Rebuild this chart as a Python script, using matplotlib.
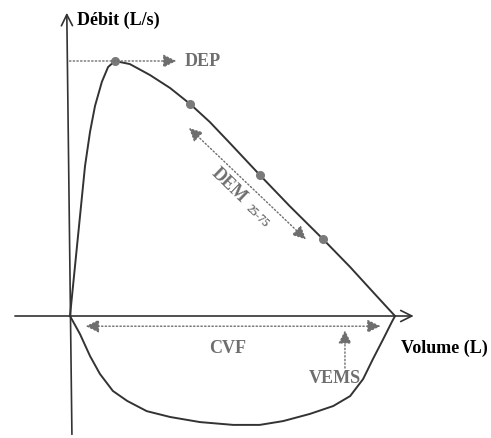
import numpy as np
import matplotlib.pyplot as plt

# courbe debit-volume (schema) : volume en L, debit en L/s
vol_exp = [0, 0.077, 0.154, 0.231, 0.308, 0.385, 0.49, 0.585, 0.69, 0.92, 1.23, 1.54,
           1.85, 2.15, 2.46, 2.92, 3.38, 3.89, 4.31, 4.69, 5.0]
deb_exp = [0, 1.96, 3.92, 5.88, 7.22, 8.24, 9.18, 9.76, 10.0, 9.88, 9.45, 8.94,
           8.31, 7.61, 6.78, 5.53, 4.31, 3.02, 1.92, 0.86, 0]

vol_insp = [0, 0.154, 0.308, 0.46, 0.66, 0.88, 1.18, 1.54, 2.0, 2.51, 2.92, 3.28,
            3.69, 4.05, 4.31, 4.51, 4.66, 4.82, 4.95, 5.0]
deb_insp = [0, -0.71, -1.57, -2.27, -2.94, -3.33, -3.73, -3.96, -4.16, -4.27, -4.27, -4.12,
            -3.84, -3.53, -3.14, -2.47, -1.69, -0.90, -0.24, 0]

# points remarquables : DEP, 25%, 50%, 75%
pts_vol = [0.69, 1.85, 2.92, 3.89]
pts_deb = [10.0, 8.31, 5.53, 3.02]

gris = '#6e6e6e'
serif = ['Liberation Serif', 'DejaVu Serif']

fig = plt.figure(figsize=(4.91, 4.39), dpi=100)
ax = fig.add_axes([0, 0, 1, 1])
ax.set_xlim(-1.077, 6.477)
ax.set_ylim(-4.784, 12.431)
ax.axis('off')

# axes
ax.annotate('', xy=(5.33, 0), xytext=(-0.89, 0),
            arrowprops=dict(arrowstyle='->', color='#333333', lw=1.2, mutation_scale=20))
ax.annotate('', xy=(-0.05, 12.0), xytext=(0.03, -4.75),
            arrowprops=dict(arrowstyle='->', color='#333333', lw=1.2, mutation_scale=20))

ax.plot(vol_exp, deb_exp, color='#333333', lw=1.4, solid_joinstyle='round')
ax.plot(vol_insp, deb_insp, color='#333333', lw=1.4, solid_joinstyle='round')
ax.plot(pts_vol, pts_deb, 'o', color='#7a7a7a', ms=5.5)

# DEP
ax.annotate('', xy=(1.68, 10.0), xytext=(-0.05, 10.0),
            arrowprops=dict(arrowstyle='-|>', color=gris, lw=1, ls=':', mutation_scale=20))
ax.text(1.77, 10.0, 'DEP', color=gris, fontsize=13, fontweight='bold', family=serif, va='center')

# DEM 25-75
ax.annotate('', xy=(1.8, 7.45), xytext=(3.66, 2.93),
            arrowprops=dict(arrowstyle='<|-|>', color=gris, lw=1, ls=':', mutation_scale=20))
ax.text(2.44, 5.18, 'DEM', color=gris, fontsize=13, fontweight='bold', family=serif,
        rotation=-44, ha='center', va='center')
ax.text(2.88, 3.96, '25-75', color=gris, fontsize=8.5, fontweight='bold', family=serif,
        rotation=-44, ha='center', va='center')

# CVF
ax.annotate('', xy=(0.2, -0.4), xytext=(4.82, -0.4),
            arrowprops=dict(arrowstyle='<|-|>', color=gris, lw=1, ls=':', mutation_scale=20))
ax.text(2.42, -1.22, 'CVF', color=gris, fontsize=13, fontweight='bold', family=serif,
        ha='center', va='center')

# VEMS
ax.annotate('', xy=(4.23, -0.45), xytext=(4.23, -2.15),
            arrowprops=dict(arrowstyle='-|>', color=gris, lw=1, ls=':', mutation_scale=20))
ax.text(4.08, -2.4, 'VEMS', color=gris, fontsize=13, fontweight='bold', family=serif,
        ha='center', va='center')

# titres des axes
ax.text(0.1, 11.65, 'Débit (L/s)', color='black', fontsize=13, fontweight='bold', family=serif,
        va='center')
ax.text(5.76, -1.22, 'Volume (L)', color='black', fontsize=13, fontweight='bold', family=serif,
        ha='center', va='center')

fig.savefig('out.png', dpi=100)
